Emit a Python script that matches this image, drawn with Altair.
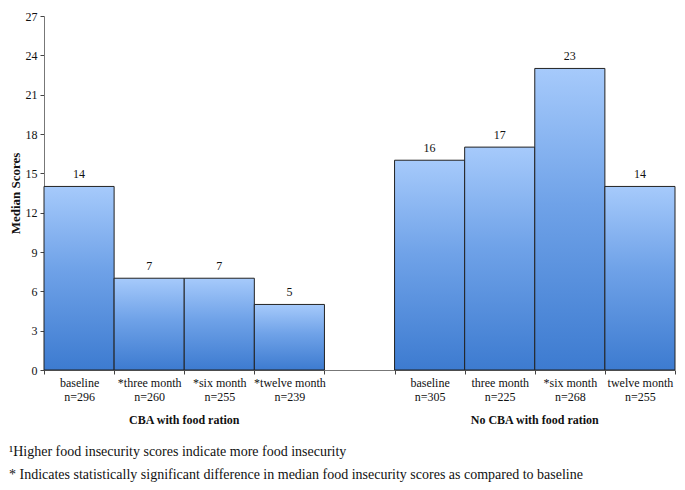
import altair as alt
import pandas as pd

labels = ["baseline", "*three month", "*six month", "*twelve month",
          "baseline", "three month", "*six month", "twelve month"]
ns = [296, 260, 255, 239, 305, 225, 268, 255]
values = [14, 7, 7, 5, 16, 17, 23, 14]
group_names = ["CBA with food ration", "No CBA with food ration"]
footnotes = ["\u00b9Higher food insecurity scores indicate more food insecurity",
             "* Indicates statistically significant difference in median food insecurity scores as compared to baseline"]
y_ticks = [0, 3, 6, 9, 12, 15, 18, 21, 24, 27]

keys = [f"{l}|n={n}" for l, n in zip(labels, ns)]
domain = keys[:4] + ["gap"] + keys[4:]
df = pd.DataFrame({"key": keys, "value": values})

W, H = 631, 354
slot = W / 9
FONT = "Liberation Serif"

grad = alt.Gradient(
    gradient="linear",
    stops=[alt.GradientStop(color="#3d7bd0", offset=0),
           alt.GradientStop(color="#6fa2e8", offset=0.55),
           alt.GradientStop(color="#a6cafb", offset=1)],
    x1=0, x2=0, y1=1, y2=0,
)

x_enc = alt.X("key:N", sort=domain,
              scale=alt.Scale(domain=domain, paddingInner=0, paddingOuter=0),
              axis=alt.Axis(title=None, labelAngle=0, tickBand="extent",
                            labelExpr="isString(datum.value) && datum.value != 'gap' ? split(datum.value, '|') : ''",
                            labelFont=FONT, labelFontSize=12, labelColor="#111",
                            labelLineHeight=14, labelPadding=3, tickSize=4,
                            domainColor="#777", tickColor="#444"))
y_enc = alt.Y("value:Q", scale=alt.Scale(domain=[0, 27], nice=False, zero=True),
              axis=alt.Axis(title="Median Scores", values=y_ticks, grid=False,
                            labelOverlap=False,
                            labelFont=FONT, labelFontSize=12, labelColor="#111",
                            titleFont=FONT, titleFontSize=13, titleFontWeight="bold",
                            titleColor="#111", titlePadding=3, tickSize=4,
                            labelPadding=3, domainColor="#777", tickColor="#444"))

base = alt.Chart(df).encode(x=x_enc, y=y_enc)
bars = base.mark_bar(color=grad, stroke="#222", strokeWidth=1)
texts = base.mark_text(baseline="bottom", dy=-5, font=FONT, fontSize=12, color="#111").encode(
    text="value:Q")

g1 = alt.Chart(pd.DataFrame({"g": [group_names[0]]})).mark_text(
    font=FONT, fontSize=12, fontWeight="bold", color="#111").encode(
    x=alt.value(2 * slot), y=alt.value(404), text="g:N")
g2 = alt.Chart(pd.DataFrame({"g": [group_names[1]]})).mark_text(
    font=FONT, fontSize=12, fontWeight="bold", color="#111").encode(
    x=alt.value(7 * slot), y=alt.value(404), text="g:N")
f1 = alt.Chart(pd.DataFrame({"t": [footnotes[0]]})).mark_text(
    font=FONT, fontSize=14, align="left", color="#111").encode(
    x=alt.value(-35), y=alt.value(436), text="t:N")
f2 = alt.Chart(pd.DataFrame({"t": [footnotes[1]]})).mark_text(
    font=FONT, fontSize=14, align="left", color="#111").encode(
    x=alt.value(-35), y=alt.value(459), text="t:N")

chart = alt.layer(bars, texts, g1, g2, f1, f2).properties(
    width=W, height=H,
    autosize=alt.AutoSizeParams(type="none"),
    padding={"left": 36, "top": 8, "right": 2, "bottom": 112},
    background="white",
).configure_view(stroke=None)

chart.save("out.html", embed_options={"renderer": "svg", "actions": False})
